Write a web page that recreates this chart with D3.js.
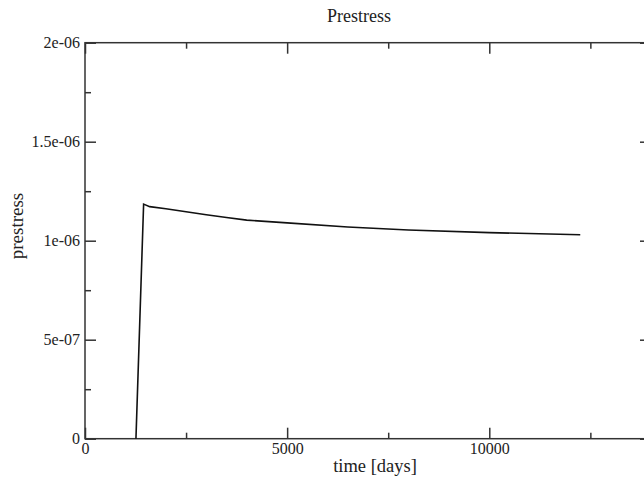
<!DOCTYPE html>
<html>
<head>
<meta charset="utf-8">
<script src="https://cdn.jsdelivr.net/npm/d3@7"></script>
<style>
  body { margin: 0; background: #fff; }
  text { font-family: "Liberation Serif", "DejaVu Serif", serif; fill: #222; }
</style>
</head>
<body>
<svg id="chart" width="644" height="483"></svg>
<script>
// data
const timeDays = [1260, 1450, 1600, 2000, 2500, 3000, 3500, 4000, 5000, 6500, 8000, 10000, 12250];
const prestress = [0, 1.185e-6, 1.172e-6, 1.161e-6, 1.146e-6, 1.131e-6, 1.117e-6, 1.104e-6, 1.090e-6, 1.069e-6, 1.054e-6, 1.041e-6, 1.030e-6];

const xMajor = [0, 5000, 10000];
const xMinor = [2500, 7500, 12500];
const yMajor = [0, 5e-7, 1e-6, 1.5e-6, 2e-6];
const yMajorLabels = ["0", "5e-07", "1e-06", "1.5e-06", "2e-06"];
const yMinor = [2.5e-7, 7.5e-7, 1.25e-6, 1.75e-6];

const margin = { left: 85, top: 42.7, right: 651, bottom: 438.7 };

const svg = d3.select("#chart");

const x = d3.scaleLinear().domain([0, 14000]).range([margin.left, margin.right]);
const y = d3.scaleLinear().domain([0, 2e-6]).range([margin.bottom, margin.top]);

const majorLen = 11, minorLen = 6;

// bottom axis
svg.append("g")
  .attr("class", "x axis")
  .attr("transform", "translate(0," + margin.bottom + ")")
  .call(d3.axisBottom(x).tickValues(xMajor).tickSize(-majorLen).tickPadding(4).tickFormat(d3.format("d")));
svg.append("g")
  .attr("transform", "translate(0," + margin.bottom + ")")
  .call(d3.axisBottom(x).tickValues(xMinor).tickSize(-minorLen).tickFormat(""));

// top axis
svg.append("g")
  .attr("transform", "translate(0," + margin.top + ")")
  .call(d3.axisTop(x).tickValues(xMajor).tickSize(-majorLen).tickFormat(""));
svg.append("g")
  .attr("transform", "translate(0," + margin.top + ")")
  .call(d3.axisTop(x).tickValues(xMinor).tickSize(-minorLen).tickFormat(""));

// left axis
svg.append("g")
  .attr("class", "y axis")
  .attr("transform", "translate(" + margin.left + ",0)")
  .call(d3.axisLeft(y).tickValues(yMajor).tickSize(-majorLen).tickPadding(5)
    .tickFormat((d, i) => yMajorLabels[i]));
svg.append("g")
  .attr("transform", "translate(" + margin.left + ",0)")
  .call(d3.axisLeft(y).tickValues(yMinor).tickSize(-minorLen).tickFormat(""));

// right axis
svg.append("g")
  .attr("transform", "translate(" + margin.right + ",0)")
  .call(d3.axisRight(y).tickValues(yMajor).tickSize(-majorLen).tickFormat(""));
svg.append("g")
  .attr("transform", "translate(" + margin.right + ",0)")
  .call(d3.axisRight(y).tickValues(yMinor).tickSize(-minorLen).tickFormat(""));

svg.selectAll(".domain").remove();
svg.selectAll(".tick line").attr("stroke", "#333").attr("stroke-width", 1.5);
svg.selectAll(".tick text")
  .style("font-family", "Liberation Serif")
  .style("font-size", "16px")
  .attr("fill", "#222");

// frame
svg.append("rect")
  .attr("x", margin.left)
  .attr("y", margin.top)
  .attr("width", margin.right - margin.left)
  .attr("height", margin.bottom - margin.top)
  .attr("fill", "none")
  .attr("stroke", "#333")
  .attr("stroke-width", 1.5);

// data line
const line = d3.line()
  .x((d, i) => x(timeDays[i]))
  .y(d => y(d));

svg.append("path")
  .datum(prestress)
  .attr("d", line)
  .attr("fill", "none")
  .attr("stroke", "#111")
  .attr("stroke-width", 1.6);

// titles
svg.append("text")
  .attr("x", 359)
  .attr("y", 22)
  .attr("text-anchor", "middle")
  .style("font-size", "18px")
  .text("Prestress");

svg.append("text")
  .attr("x", 375)
  .attr("y", 472)
  .attr("text-anchor", "middle")
  .style("font-size", "18.5px")
  .text("time [days]");

svg.append("text")
  .attr("transform", "translate(23," + 226 + ") rotate(-90)")
  .attr("text-anchor", "middle")
  .style("font-size", "19px")
  .text("prestress");
</script>
</body>
</html>
